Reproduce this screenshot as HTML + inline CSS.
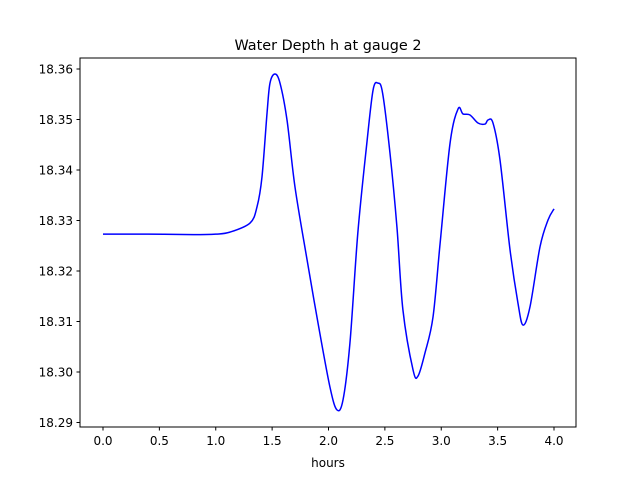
<!DOCTYPE html>
<html><head><meta charset="utf-8"><style>
body{margin:0;background:#fff;}
svg text{font-family:"DejaVu Sans","Liberation Sans",sans-serif;fill:#000;}
</style></head><body>
<svg id="chart" width="640" height="480" xmlns="http://www.w3.org/2000/svg">
<rect width="640" height="480" fill="#fff"/>
<text x="328" y="50" font-size="14.4" text-anchor="middle">Water Depth h at gauge 2</text>
<g id="plot"></g>
<rect x="80" y="58" width="496" height="369" fill="none" stroke="#000" stroke-width="1"/>
<text x="328" y="467" font-size="12" text-anchor="middle">hours</text>
</svg>
<script>
const hours=[0,0.4,0.8,1.0,1.126,1.304,1.366,1.41,1.455,1.481,1.525,1.57,1.632,1.703,1.81,1.907,2.013,2.075,2.129,2.19,2.26,2.34,2.395,2.439,2.48,2.545,2.607,2.66,2.75,2.794,2.856,2.927,2.99,3.078,3.149,3.193,3.255,3.326,3.388,3.415,3.459,3.521,3.61,3.68,3.725,3.787,3.876,3.947,4.0];
const depth=[18.3273,18.3273,18.3272,18.3273,18.3277,18.3295,18.3327,18.3386,18.3513,18.3572,18.359,18.3572,18.3499,18.3366,18.3222,18.3097,18.297,18.2925,18.2945,18.3057,18.3275,18.3453,18.3558,18.3572,18.3552,18.3434,18.3287,18.3123,18.3004,18.2992,18.3038,18.3109,18.3255,18.3453,18.3521,18.3511,18.3509,18.3493,18.3491,18.3499,18.3493,18.342,18.3242,18.3137,18.3093,18.3129,18.3248,18.3301,18.3323];
const xTicks=[0,0.5,1,1.5,2,2.5,3,3.5,4];
const xTickLabels=["0.0","0.5","1.0","1.5","2.0","2.5","3.0","3.5","4.0"];
const yTicks=[18.29,18.30,18.31,18.32,18.33,18.34,18.35,18.36];
const yTickLabels=["18.29","18.30","18.31","18.32","18.33","18.34","18.35","18.36"];
const NS="http://www.w3.org/2000/svg";
const xs=h=>103+h*112.75;
const ys=v=>372-(v-18.30)*5050;
const g=document.getElementById('plot');
function mk(t,a){const e=document.createElementNS(NS,t);for(const k in a)e.setAttribute(k,a[k]);return e;}
xTicks.forEach((t,i)=>{
 const l=mk('line',{x1:xs(t),x2:xs(t),y1:427,y2:430.5,stroke:'#000'});
 
 
 g.appendChild(l);
 const tx=mk('text',{x:xs(t),y:445,'font-size':12,'text-anchor':'middle'});
 tx.textContent=xTickLabels[i];
 
 
 g.appendChild(tx);
});
yTicks.forEach((t,i)=>{
 const l=mk('line',{x1:76.5,x2:80,y1:ys(t),y2:ys(t),stroke:'#000'});
 
 
 g.appendChild(l);
 const tx=mk('text',{x:73,y:ys(t)+4.5,'font-size':12,'text-anchor':'end'});
 tx.textContent=yTickLabels[i];
 
 
 g.appendChild(tx);
});
const pts=hours.map((h,i)=>[xs(h),ys(depth[i])]);
let d='M'+pts[0][0]+','+pts[0][1];
for(let i=0;i<pts.length-1;i++){
 const p0=pts[Math.max(0,i-1)],p1=pts[i],p2=pts[i+1],p3=pts[Math.min(pts.length-1,i+2)];
 const c1=[p1[0]+(p2[0]-p0[0])/6,p1[1]+(p2[1]-p0[1])/6];
 const c2=[p2[0]-(p3[0]-p1[0])/6,p2[1]-(p3[1]-p1[1])/6];
 d+=' C'+c1+' '+c2+' '+p2;
}
const path=mk('path',{d:d,fill:'none',stroke:'#0000ff','stroke-width':1.5});


g.appendChild(path);
</script>
</body></html>
